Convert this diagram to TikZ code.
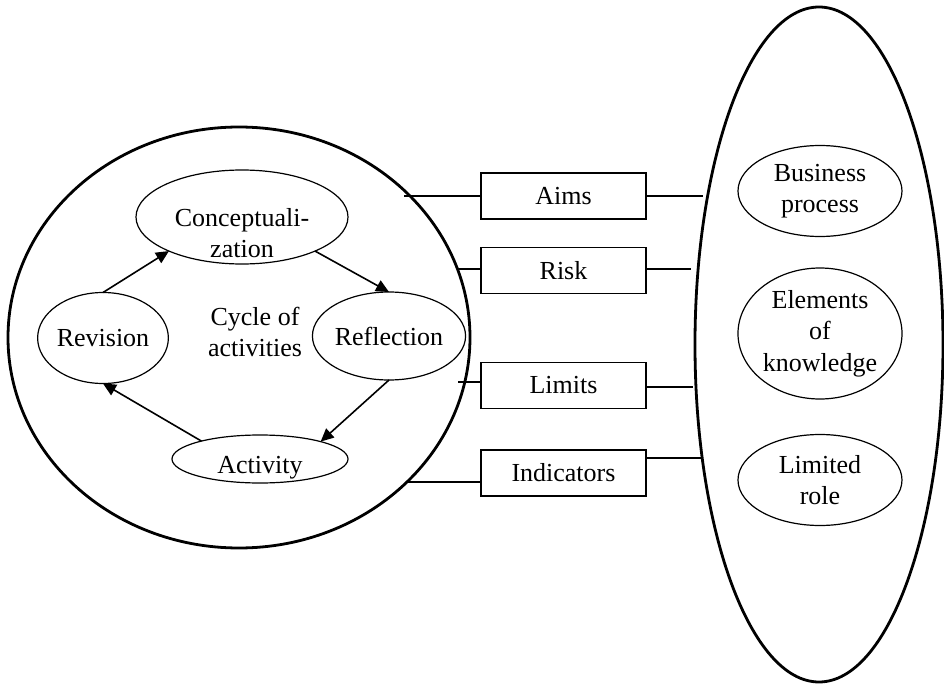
\documentclass[tikz,border=0pt]{standalone}
\usepackage{fontspec}
\setmainfont{Liberation Serif}
\usetikzlibrary{shapes.geometric,arrows.meta}
\begin{document}
\begin{tikzpicture}[x=0.5pt,y=-0.5pt,
  every node/.style={inner sep=0pt,outer sep=0pt,align=center,
    font=\fontsize{13}{15.8}\selectfont},
  outerell/.style={draw,ellipse,line width=1.4pt},
  innerell/.style={draw,ellipse,line width=0.6pt},
  factorbox/.style={draw,rectangle,line width=0.8pt,
    minimum width=82.5pt,minimum height=23pt},
  cyclearrow/.style={line width=0.8pt,-{Triangle[length=6.5pt,width=6pt]}},
  link/.style={line width=1.4pt}]
\useasboundingbox (0,0) rectangle (944,685);

% the two large enclosing shapes
\node[outerell,minimum width=231pt,minimum height=210.5pt] (cycle) at (239,337.5) {};
\node[outerell,minimum width=124pt,minimum height=337.5pt] (domain) at (819,344.5) {};

% cycle of activities
\node[innerell,minimum width=106pt,minimum height=47pt] (con) at (242,217) {};
\node (conT) at (242,233) {Conceptuali-\\zation};
\node[innerell,minimum width=55pt,minimum height=45.5pt] (rev) at (103,338) {Revision};
\node[innerell,minimum width=70pt,minimum height=44pt] (ref) at (389,336) {Reflection};
\node[innerell,minimum width=88pt,minimum height=24pt] (act) at (260,459) {};
\node (actT) at (260,468) {Activity};
\node (cyc) at (255,332) {Cycle of\\activities};

\draw[cyclearrow] (rev.north) -- (con.205);
\draw[cyclearrow] (con.335) -- (ref.north);
\draw[cyclearrow] (ref.south) -- (act.16);
\draw[cyclearrow] (act.163) -- (rev.south);

% elements on the right
\node[innerell,minimum width=82pt,minimum height=45.5pt] (bp) at (820,191) {Business\\process};
\node[innerell,minimum width=82pt,minimum height=65.5pt] (ek) at (820,333.5) {Elements\\of\\knowledge};
\node[innerell,minimum width=82pt,minimum height=45.5pt] (lr) at (820,480) {Limited\\role};

% linking factors
\node[factorbox] (aims) at (563.5,196) {Aims};
\node[factorbox] (risk) at (563.5,270.5) {Risk};
\node[factorbox] (limits) at (563.5,385.5) {Limits};
\node[factorbox] (ind) at (563.5,473) {Indicators};

\coordinate (aimsL) at (404,196);
\coordinate (aimsR) at (703,196);
\coordinate (riskL) at (458,269);
\coordinate (riskR) at (691,269);
\coordinate (limL) at (458,382);
\coordinate (limR) at (693,387);
\coordinate (indL) at (407,482);
\coordinate (indR) at (703,458);

\draw[link] (aimsL) -- (aimsL -| aims.west);
\draw[link] (aimsR -| aims.east) -- (aimsR);
\draw[link] (riskL) -- (riskL -| risk.west);
\draw[link] (riskR -| risk.east) -- (riskR);
\draw[link] (limL) -- (limL -| limits.west);
\draw[link] (limR -| limits.east) -- (limR);
\draw[link] (indL) -- (indL -| ind.west);
\draw[link] (indR -| ind.east) -- (indR);
\end{tikzpicture}
\end{document}
